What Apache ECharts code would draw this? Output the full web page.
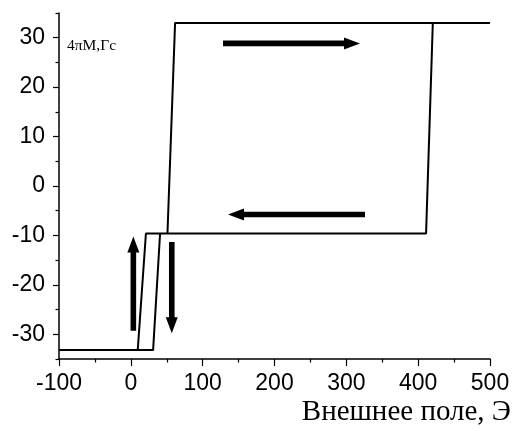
<!DOCTYPE html>
<html>
<head>
<meta charset="utf-8">
<script src="https://cdn.jsdelivr.net/npm/echarts@6/dist/echarts.min.js"></script>
<style>html,body{margin:0;padding:0;background:#fff}#c{width:514px;height:431px}</style>
</head>
<body>
<div id="c"></div>
<script>
// Hysteresis loop (field, Oe -> 4piM, Gs), traced in order
const loopX = [-100, 9.6, 21, 51, 61.6, 500, 420.4, 411, 40.7, 31, -100];
const loopY = [-33.2, -33.2, -9.6, -9.6, 33, 33, 33, -9.6, -9.6, -33.2, -33.2];
// Direction arrows: start (x0,y0) -> tip (x1,y1)
const arrowX0 = [128.3, 326, 3.5, 57];
const arrowY0 = [28.85, -5.76, -29.3, -11.35];
const arrowX1 = [319, 135.3, 3.5, 57];
const arrowY1 = [28.85, -5.76, -10.2, -29.8];
// Axis ranges
const xRange = [-100, 500];
const yRange = [-35, 35];
const yLabel = '4πM,Гс';
const xLabel = 'Внешнее поле, Э';

const chart = echarts.init(document.getElementById('c'), null, {renderer: 'canvas'});
const loopData = loopX.map((x, i) => [x, loopY[i]]);
const arrowData = arrowX0.map((x, i) => [x, arrowY0[i], arrowX1[i], arrowY1[i]]);
const sans = 'Liberation Sans, Arial, sans-serif';
const serif = 'Liberation Serif, Times New Roman, serif';

chart.setOption({
  animation: false,
  backgroundColor: '#fff',
  grid: {left: 59, right: 24, top: 13, bottom: 72, containLabel: false},
  xAxis: {
    type: 'value', min: xRange[0], max: xRange[1], interval: 100,
    axisLine: {show: true, onZero: false, lineStyle: {color: '#000', width: 1.5}},
    axisTick: {show: true, inside: false, length: 7, lineStyle: {color: '#000', width: 1.2}},
    minorTick: {show: true, splitNumber: 2, length: 3.5, lineStyle: {color: '#000', width: 1.2}},
    axisLabel: {color: '#000', fontFamily: sans, fontSize: 23, margin: 13},
    splitLine: {show: false}
  },
  yAxis: [{
    type: 'value', min: yRange[0], max: yRange[1], splitNumber: 7,
    axisLine: {show: true, onZero: false, lineStyle: {color: '#000', width: 1.5}},
    axisTick: {show: true, inside: false, length: 6, lineStyle: {color: '#000', width: 1.2}},
    axisLabel: {color: '#000', fontFamily: sans, fontSize: 23, margin: 14, showMinLabel: false, showMaxLabel: false},
    splitLine: {show: false}
  }, {
    type: 'value', min: yRange[0], max: yRange[1], interval: 10, position: 'left', offset: 0,
    axisLine: {show: false, onZero: false},
    axisTick: {show: true, inside: false, length: 3.5, lineStyle: {color: '#000', width: 1.2}},
    axisLabel: {show: false},
    splitLine: {show: false}
  }],
  graphic: [
    {type: 'text', left: 67, top: 38, style: {text: yLabel, font: '15.5px ' + serif, fill: '#000'}},
    {type: 'text', right: 3, top: 398, style: {text: xLabel, font: '29px ' + serif, fill: '#000'}}
  ],
  series: [{
    type: 'line', data: loopData, showSymbol: false, symbol: 'none',
    lineStyle: {color: '#000', width: 2}, xAxisIndex: 0, yAxisIndex: 0
  }, {
    type: 'custom', data: arrowData, xAxisIndex: 0, yAxisIndex: 0,
    encode: {x: [0, 2], y: [1, 3]},
    renderItem: function (params, api) {
      const p0 = api.coord([api.value(0), api.value(1)]);
      const p1 = api.coord([api.value(2), api.value(3)]);
      const dx = p1[0] - p0[0], dy = p1[1] - p0[1];
      const len = Math.sqrt(dx * dx + dy * dy);
      const ux = dx / len, uy = dy / len, nx = -uy, ny = ux;
      const sw = 2.8, hw = 6, hl = 16;
      const bx = p1[0] - ux * hl, by = p1[1] - uy * hl;
      const pts = [
        [p0[0] + nx * sw, p0[1] + ny * sw],
        [bx + nx * sw, by + ny * sw],
        [bx + nx * hw, by + ny * hw],
        [p1[0], p1[1]],
        [bx - nx * hw, by - ny * hw],
        [bx - nx * sw, by - ny * sw],
        [p0[0] - nx * sw, p0[1] - ny * sw]
      ];
      return {type: 'polygon', shape: {points: pts}, style: {fill: '#000'}};
    }
  }]
});
</script>
</body>
</html>
